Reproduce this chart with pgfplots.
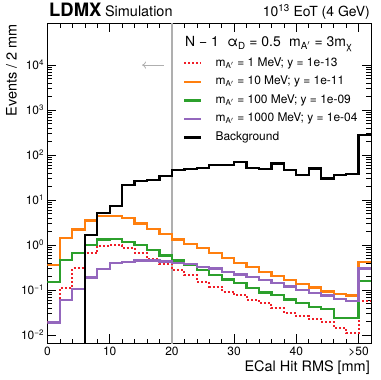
\documentclass[border=0pt]{standalone}
\usepackage{fontspec}
\setmainfont{TeX Gyre Heros}
\usepackage{pgfplots}
\pgfplotsset{compat=1.18}
\usetikzlibrary{arrows.meta}

\definecolor{sigred}{RGB}{240,30,40}
\definecolor{sigorange}{RGB}{255,127,14}
\definecolor{siggreen}{RGB}{44,160,44}
\definecolor{sigpurple}{RGB}{148,103,189}
\definecolor{cutgray}{RGB}{175,175,175}

\begin{document}
\begin{tikzpicture}
\begin{axis}[
  scale only axis, width=323.5bp, height=320bp,
  xmin=0, xmax=52, ymode=log, ymin=6.5e-3, ymax=8.5e4,
  axis line style={line width=0.8bp},
  tick align=inside, major tick length=9bp, minor tick length=4.5bp,
  tick style={black, line width=0.6bp},
  xtick={0,10,20,30,40,50}, xticklabels={0,10,20,30,40,{>50}},
  minor x tick num=4,
  ytick={1e-2,1e-1,1,10,100,1000,10000},
  yticklabels={10\textsuperscript{−2},10\textsuperscript{−1},10\textsuperscript{0},10\textsuperscript{1},10\textsuperscript{2},10\textsuperscript{3},10\textsuperscript{4}},
  tick label style={font=\fontsize{12}{14}\selectfont},
  legend cell align=left,
  legend image code/.code={\draw[#1] (0bp,0bp) -- (17bp,0bp);},
  legend style={at={(rel axis cs:0.419,0.894)}, anchor=north west, draw=none, fill=none,
    inner sep=0pt, row sep=6.5bp, column sep=13bp,
    font=\fontsize{12}{14}\selectfont,
    nodes={inner sep=0pt, text height=9bp, text depth=3bp}},
]
% cut value
\addplot[forget plot, sharp plot, no marks, cutgray, line width=1.3bp] coordinates {(20,1e-3) (20,1e6)};
\draw[cutgray, line width=0.8bp, -{To[length=4bp,width=7bp]}] (axis cs:18.7,1e4) -- (axis cs:15.2,1e4);

\addplot[const plot, no marks, color=sigred, line width=2bp, dash pattern=on 2bp off 2bp] coordinates {
 (0,0.019) (2,0.109) (4,0.30) (6,0.65) (8,0.96) (10,1.0) (12,0.84) (14,0.65)
 (16,0.48) (18,0.37) (20,0.28) (22,0.215) (24,0.153) (26,0.119) (28,0.092)
 (30,0.077) (32,0.061) (34,0.051) (36,0.039) (38,0.030) (40,0.026) (42,0.0225)
 (44,0.0196) (46,0.0145) (48,0.011) (50,0.056) (52,0.056)};
\addlegendentry{m\textsubscript{A$'$} = 1 MeV; y = 1e-13}

\addplot[const plot, no marks, color=sigorange, line width=2.2bp] coordinates {
 (0,0.36) (2,1.4) (4,2.2) (6,3.5) (8,4.4) (10,4.4) (12,3.9) (14,3.0)
 (16,2.27) (18,1.75) (20,1.32) (22,1.05) (24,0.84) (26,0.65) (28,0.51)
 (30,0.40) (32,0.32) (34,0.255) (36,0.208) (38,0.167) (40,0.134) (42,0.113)
 (44,0.092) (46,0.080) (48,0.075) (50,0.41) (52,0.41)};
\addlegendentry{m\textsubscript{A$'$} = 10 MeV; y = 1e-11}

\addplot[const plot, no marks, color=siggreen, line width=2.2bp] coordinates {
 (0,0.148) (2,0.46) (4,0.65) (6,1.0) (8,1.32) (10,1.36) (12,1.18) (14,1.0)
 (16,0.77) (18,0.58) (20,0.45) (22,0.36) (24,0.28) (26,0.215) (28,0.17)
 (30,0.14) (32,0.112) (34,0.088) (36,0.076) (38,0.061) (40,0.052) (42,0.041)
 (44,0.037) (46,0.0235) (48,0.0235) (50,0.158) (52,0.158)};
\addlegendentry{m\textsubscript{A$'$} = 100 MeV; y = 1e-09}

\addplot[const plot, no marks, color=sigpurple, line width=2.2bp] coordinates {
 (0,0.0188) (2,0.06) (4,0.105) (6,0.188) (8,0.29) (10,0.40) (12,0.42) (14,0.45)
 (16,0.45) (18,0.43) (20,0.40) (22,0.38) (24,0.32) (26,0.30) (28,0.255)
 (30,0.22) (32,0.19) (34,0.167) (36,0.14) (38,0.119) (40,0.10) (42,0.084)
 (44,0.075) (46,0.063) (48,0.057) (50,0.30) (52,0.30)};
\addlegendentry{m\textsubscript{A$'$} = 1000 MeV; y = 1e-04}

\addplot[const plot, no marks, color=black, line width=2.3bp] coordinates {
 (4,1e-4) (6,1.67) (8,5.1) (10,7.4) (12,21.5) (14,26.4) (16,27.8) (18,34)
 (20,46) (22,49) (24,52) (26,61) (28,61) (30,71) (32,51) (34,49) (36,65)
 (38,46) (40,36) (42,50) (44,30) (46,36) (48,37.5) (50,282) (52,282)};
\addlegendentry{Background}
\end{axis}

\node[anchor=base west, font=\fontsize{14}{16}\selectfont, inner sep=0pt]
  at ([shift={(137.5bp,296.3bp)}]current axis.south west)
  {N − 1\hspace{0.6em}α\textsubscript{D} = 0.5\hspace{0.6em}m\textsubscript{A$'$} = 3m\textsubscript{χ}};
\node[anchor=base west, inner sep=0pt]
  at ([shift={(1.5bp,7bp)}]current axis.north west)
  {\fontsize{18.5}{20}\selectfont\bfseries LDMX\hspace{0.2em}\fontsize{14.5}{16}\mdseries Simulation};
\node[anchor=base east, inner sep=0pt, font=\fontsize{14}{16}\selectfont]
  at ([shift={(-1bp,7bp)}]current axis.north east)
  {10\textsuperscript{13} EoT (4 GeV)};
\node[anchor=base east, inner sep=0pt, font=\fontsize{14.5}{16}\selectfont]
  at ([shift={(-1bp,-28bp)}]current axis.south east)
  {ECal Hit RMS [mm]};
\node[anchor=base east, rotate=90, inner sep=0pt, font=\fontsize{14.5}{16}\selectfont]
  at ([shift={(-31bp,-1bp)}]current axis.north west)
  {Events / 2 mm};

\pgfresetboundingbox
\path[use as bounding box] ([shift={(-47.5bp,-36.7bp)}]current axis.south west)
  rectangle ([shift={(333.5bp,343.3bp)}]current axis.south west);
\end{tikzpicture}
\end{document}
